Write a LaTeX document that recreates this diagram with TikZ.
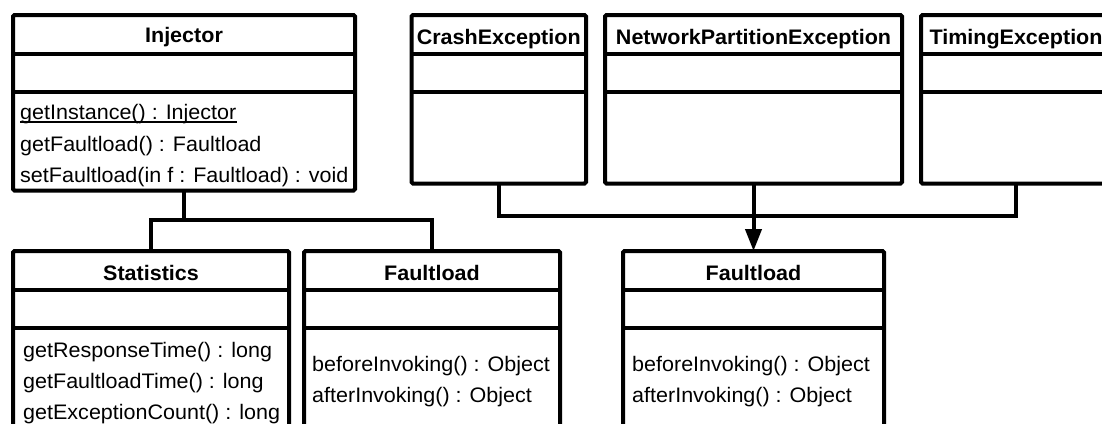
\documentclass[tikz,border=0pt]{standalone}
\usepackage{fontspec}
\setmainfont{Liberation Sans}[FakeStretch=1.025]
\usetikzlibrary{arrows.meta,calc}
\tikzset{
  classbox/.style={draw=black, line width=4pt, rounded corners=1.5pt, outer sep=0pt,
    inner sep=0pt, anchor=north west, fill=white},
  divider/.style={line width=4pt},
  link/.style={line width=4pt},
  title/.style={font=\fontsize{21}{24}\selectfont\bfseries, inner sep=0pt, anchor=base},
  op/.style={font=\fontsize{21}{24}\selectfont, inner sep=0pt, anchor=base west},
  uline/.style={line width=1.3pt},
}
\begin{document}
\begin{tikzpicture}[x=1pt,y=-1pt]
\useasboundingbox (0,0) rectangle (1102,423);
\clip (0,0) rectangle (1102,423);
\fill[white] (0,0) rectangle (1102,423);

% class boxes
\node[classbox, minimum width=342pt, minimum height=175.5pt] (inj) at (13,15) {};
\node[classbox, minimum width=174.5pt, minimum height=168.5pt] (crash) at (411.5,15) {};
\node[classbox, minimum width=297pt, minimum height=168.5pt] (net) at (605,15) {};
\node[classbox, minimum width=190pt, minimum height=168.5pt] (timing) at (921,15) {};
\node[classbox, minimum width=276pt, minimum height=200pt] (stat) at (13,251) {};
\node[classbox, minimum width=256pt, minimum height=200pt] (fl1) at (304,251) {};
\node[classbox, minimum width=261pt, minimum height=200pt] (fl2) at (623,251) {};

% compartment dividers
\foreach \b in {inj,crash,net,timing,stat,fl1,fl2} {
  \draw[divider] ([yshift=-38.5pt]\b.north west) -- ([yshift=-38.5pt]\b.north east);
  \draw[divider] ([yshift=-77pt]\b.north west) -- ([yshift=-77pt]\b.north east);
}

% connectors
\coordinate (busL) at (184,220);
\draw[link] (inj.south) -- (busL);
\draw[link] (stat.north) |- (busL) -| (fl1.north);
\coordinate (busR) at (753.5,216);
\draw[link] (crash.south) |- (busR) -| (timing.south);
\draw[link, -{Triangle[length=22pt,width=16pt]}] (net.south) -- (fl2.north);

% class names
\node[title] (injT) at ([yshift=-27.5pt]inj.north) {Injector};
\node[title] (crashT) at ([yshift=-29.5pt]crash.north) {CrashException};
\node[title] (netT) at ([yshift=-29.5pt]net.north) {NetworkPartitionException};
\node[title] (timingT) at ([yshift=-29.5pt]timing.north) {TimingException};
\node[title] (statT) at ([yshift=-29pt]stat.north) {Statistics};
\node[title] (fl1T) at ([yshift=-29pt]fl1.north) {Faultload};
\node[title] (fl2T) at ([yshift=-29pt]fl2.north) {Faultload};

% operations
\node[op] (inj1) at (20,119) {getInstance() : Injector};
\draw[uline] ([yshift=-3pt]inj1.base west) -- ([yshift=-3pt]inj1.base east);
\node[op] (inj2) at (20,151) {getFaultload() : Faultload};
\node[op] (inj3) at (20,182) {setFaultload(in f : Faultload) : void};

\node[op] (stat1) at (23,357) {getResponseTime() : long};
\node[op] (stat2) at (23,388) {getFaultloadTime() : long};
\node[op] (stat3) at (23,419) {getExceptionCount() : long};

\node[op] (fl1a) at (312,371) {beforeInvoking() : Object};
\node[op] (fl1b) at (312,402) {afterInvoking() : Object};

\node[op] (fl2a) at (632,371) {beforeInvoking() : Object};
\node[op] (fl2b) at (632,402) {afterInvoking() : Object};
\end{tikzpicture}
\end{document}
